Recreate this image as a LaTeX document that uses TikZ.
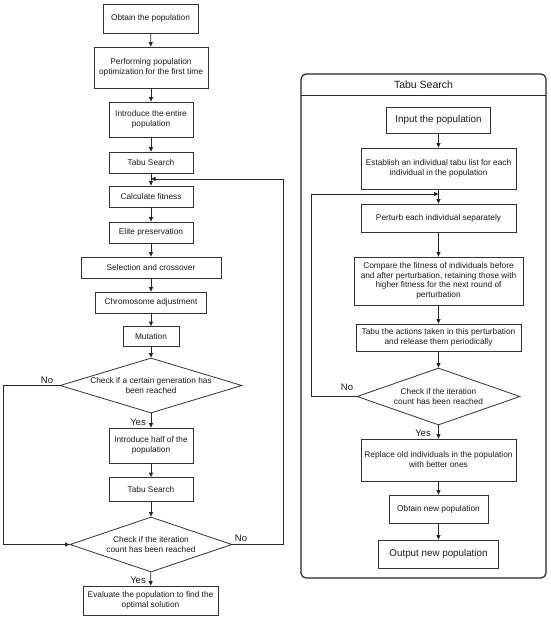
\documentclass[tikz,border=0pt]{standalone}
\usepackage{fontspec}
\setmainfont{Liberation Sans}
\usetikzlibrary{shapes.geometric,arrows.meta}
\tikzset{
 box/.style={draw=black!80, line width=0.8pt, align=center, inner sep=1pt, text=black!90, font=\fontsize{8.3}{10}\selectfont},
 dia/.style={draw=black!80, line width=0.8pt, diamond, inner sep=0pt},
 dtext/.style={align=center, inner sep=0pt, text=black!90, font=\fontsize{8.3}{10}\selectfont},
 arr/.style={draw=black!85, line width=0.8pt, -{Triangle[length=4.5pt,width=4pt]}},
 yn/.style={inner sep=0pt, text=black!90, font=\fontsize{9.5}{11}\selectfont},
 big/.style={font=\fontsize{9.8}{12}\selectfont},
}
\begin{document}
\begin{tikzpicture}[x=1pt,y=-1pt]
\useasboundingbox (0,0) rectangle (550,618);
% ---------------- left column ----------------
\node[box, minimum width=95pt, minimum height=29pt] (obt) at (150.5,18.5) {Obtain the population};
\node[box, minimum width=114pt, minimum height=41pt] (perf) at (151,67.5) {Performing population\\optimization for the first time};
\node[box, minimum width=84pt, minimum height=35pt] (intro) at (151,119.5) {Introduce the entire\\population};
\node[box, minimum width=84pt, minimum height=21pt] (ts1) at (151,162.5) {Tabu Search};
\node[box, minimum width=84pt, minimum height=21pt] (calc) at (151,196.5) {Calculate fitness};
\node[box, minimum width=84pt, minimum height=21pt] (elite) at (151,232.5) {Elite preservation};
\node[box, minimum width=140pt, minimum height=21pt] (sel) at (151,267.5) {Selection and crossover};
\node[box, minimum width=111pt, minimum height=21pt] (chrom) at (151,302.5) {Chromosome adjustment};
\node[box, minimum width=56pt, minimum height=20pt] (mut) at (151,336.5) {Mutation};
\node[dia, minimum width=182pt, minimum height=55pt] (d1) at (151,385.5) {};
\node[dtext] (d1t) at (d1.center) {Check if a certain generation has\\been reached};
\node[box, minimum width=84pt, minimum height=35pt] (half) at (151,445.5) {Introduce half of the\\population};
\node[box, minimum width=84pt, minimum height=24pt] (ts2) at (151,489.5) {Tabu Search};
\node[dia, minimum width=162pt, minimum height=55pt] (d2) at (151,544.5) {};
\node[dtext] (d2t) at (d2.center) {Check if the iteration\\count has been reached};
\node[box, minimum width=135pt, minimum height=29pt] (eval) at (150.5,600.5) {Evaluate the population to find the\\optimal solution};
\coordinate (loopL) at (151,179);

\draw[arr] (obt) -- (perf);
\draw[arr] (perf) -- (intro);
\draw[arr] (intro) -- (ts1);
\draw[arr] (ts1) -- (calc);
\draw[arr] (calc) -- (elite);
\draw[arr] (elite) -- (sel);
\draw[arr] (sel) -- (chrom);
\draw[arr] (chrom) -- (mut);
\draw[arr] (mut) -- (d1);
\draw[arr] (d1) -- (half);
\draw[arr] (half) -- (ts2);
\draw[arr] (ts2) -- (d2);
\draw[arr] (d2) -- (eval);
\draw[arr] (d1.west) -- ++(-56,0) |- (d2.west);
\draw[arr] (d2.east) -- ++(51,0) |- (loopL);

\node[yn] (no1) at (47,380) {No};
\node[yn] (yes1) at (138,422) {Yes};
\node[yn] (no2) at (241,538) {No};
\node[yn] (yes2) at (138,580) {Yes};

% ---------------- right panel ----------------
\node[draw=black!85, line width=1.2pt, rounded corners=5pt, minimum width=245pt, minimum height=504pt, inner sep=0pt] (panel) at (423.5,326) {};
\draw[draw=black!85, line width=1pt] (301,95) -- (546,95);
\node[inner sep=0pt, text=black!90, font=\fontsize{10.5}{12}\selectfont] (title) at (423.5,85) {Tabu Search};

\node[box, big, minimum width=104pt, minimum height=26pt] (in) at (438.5,120) {Input the population};
\node[box, minimum width=155pt, minimum height=41pt] (est) at (438.5,168.5) {Establish an individual tabu list for each\\individual in the population};
\node[box, minimum width=155pt, minimum height=28pt] (pert) at (438.5,218) {Perturb each individual separately};
\node[box, minimum width=169pt, minimum height=48pt, font=\fontsize{8.3}{9.6}\selectfont] (comp) at (438.5,281) {Compare the fitness of individuals before\\and after perturbation, retaining those with\\higher fitness for the next round of\\perturbation};
\node[box, minimum width=165pt, minimum height=27pt] (tabu) at (438.5,337.5) {Tabu the actions taken in this perturbation\\and release them periodically};
\node[dia, minimum width=163pt, minimum height=57pt] (d3) at (438.5,396.5) {};
\node[dtext] (d3t) at (d3.center) {Check if the iteration\\count has been reached};
\node[box, minimum width=155pt, minimum height=42pt] (repl) at (438.5,460) {Replace old individuals in the population\\with better ones};
\node[box, minimum width=99pt, minimum height=28pt] (obtn) at (438.5,509) {Obtain new population};
\node[box, big, minimum width=120pt, minimum height=28pt] (out) at (438.5,554) {Output new population};
\coordinate (loopR) at (438.5,194);

\draw[arr] (in) -- (est);
\draw[arr] (est) -- (pert);
\draw[arr] (pert) -- (comp);
\draw[arr] (comp) -- (tabu);
\draw[arr] (tabu) -- (d3);
\draw[arr] (d3) -- (repl);
\draw[arr] (repl) -- (obtn);
\draw[arr] (obtn) -- (out);
\draw[arr] (d3.west) -- ++(-45,0) |- (loopR);

\node[yn] (no3) at (347,387) {No};
\node[yn] (yes3) at (423,433) {Yes};
\end{tikzpicture}
\end{document}
